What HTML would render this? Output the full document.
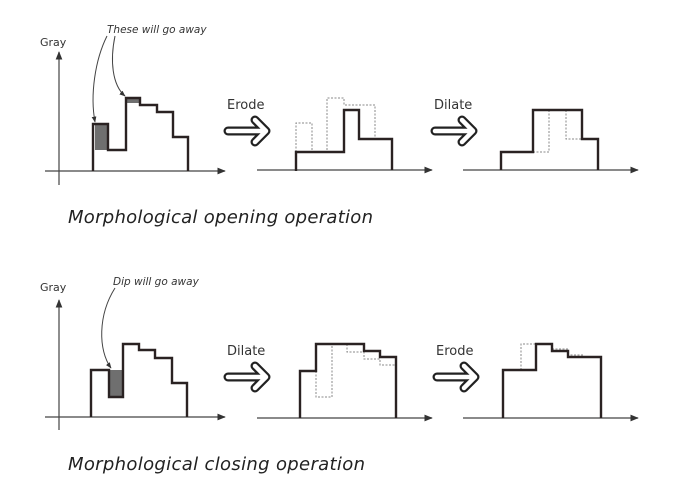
<!DOCTYPE html>
<html><head><meta charset="utf-8"><style>
html,body{margin:0;padding:0;background:#fff;width:680px;height:495px;overflow:hidden}
svg{display:block}
text{font-family:"DejaVu Sans","Liberation Sans",sans-serif}
</style></head><body>
<svg id="fig" width="680" height="495" viewBox="0 0 680 495" xmlns="http://www.w3.org/2000/svg">
<rect x="0" y="0" width="680" height="495" fill="#fff"/>
<defs>
<marker id="ah" viewBox="0 0 10 10" refX="9" refY="5" markerWidth="7" markerHeight="7" orient="auto"><path d="M0,1 L10,5 L0,9 z" fill="#333"/></marker>
<marker id="ah2" viewBox="0 0 10 10" refX="9" refY="5" markerWidth="6" markerHeight="6" orient="auto"><path d="M0,1 L10,5 L0,9 z" fill="#333"/></marker>
</defs>
<g id="shapes"></g>
<text x="40" y="46" font-size="11" fill="#333">Gray</text>
<text x="40" y="291" font-size="11" fill="#333">Gray</text>
<text x="107" y="33" font-size="10.5" font-style="italic" fill="#333">These will go away</text>
<text x="113" y="285" font-size="10.5" font-style="italic" fill="#333">Dip will go away</text>
<text x="227" y="109" font-size="13" font-weight="500" fill="#333">Erode</text>
<text x="434" y="109" font-size="13" font-weight="500" fill="#333">Dilate</text>
<text x="227" y="355" font-size="13" font-weight="500" fill="#333">Dilate</text>
<text x="436" y="355" font-size="13" font-weight="500" fill="#333">Erode</text>
<text x="68" y="223" font-size="18" font-style="italic" fill="#222" textLength="305">Morphological opening operation</text>
<text x="68" y="470" font-size="18" font-style="italic" fill="#222" textLength="297">Morphological closing operation</text>
<path d="M107,36 C95,60 90,95 95,122" fill="none" stroke="#444" stroke-width="1" marker-end="url(#ah2)"/>
<path d="M115,36 C110,60 112,85 125,96" fill="none" stroke="#444" stroke-width="1" marker-end="url(#ah2)"/>
<path d="M115,288 C98,315 98,350 111,368" fill="none" stroke="#444" stroke-width="1" marker-end="url(#ah2)"/>
</svg>
<script>
const openOrig = [[93,171],[93,124],[108,124],[108,150],[126,150],[126,98],[140,98],[140,105],[157,105],[157,112],[173,112],[173,137],[188,137],[188,171]];
const openEroded = [[296,171],[296,152],[344,152],[344,110],[359,110],[359,139],[392,139],[392,170]];
const openErodedRef = [[296,152],[296,123],[312,123],[312,152],[327,152],[327,98],[344,98],[344,105],[375,105],[375,139]];
const openDilated = [[501,170],[501,152],[533,152],[533,110],[582,110],[582,139],[598,139],[598,170]];
const openDilatedRef1 = [[549,110],[549,152],[533,152]];
const openDilatedRef2 = [[566,110],[566,139],[582,139]];
const closeOrig = [[91,417],[91,370],[109,370],[109,397],[123,397],[123,344],[139,344],[139,350],[155,350],[155,358],[172,358],[172,383],[187,383],[187,417]];
const closeDilated = [[300,418],[300,371],[316,371],[316,344],[364,344],[364,351],[380,351],[380,357],[396,357],[396,418]];
const closeDilatedRef1 = [[316,371],[316,397],[332,397],[332,344]];
const closeDilatedRef2 = [[347,344],[347,352],[364,352],[364,359],[380,359],[380,365],[396,365]];
const closeEroded = [[503,418],[503,370],[536,370],[536,344],[552,344],[552,351],[568,351],[568,357],[601,357],[601,418]];
const closeErodedRef = [[521,370],[521,344],[536,344]];
const closeErodedRef2 = [[552,349],[568,349],[568,355],[583,355],[583,357]];
const shades = [[95,124,13,26],[126,98,14,5],[110,370,13,27]];
const axes = [[59,185,59,52,45,171,225,171],[59,430,59,300,45,417,225,417]];
const xAxes = [[257,170,432],[463,170,638],[257,418,432],[463,418,638]];
const arrows = [[228,131],[435,131],[228,377],[437,377]];

const NS = 'http://www.w3.org/2000/svg';
const g = document.getElementById('shapes');
function mk(tag, attrs){const e=document.createElementNS(NS,tag);for(const k in attrs)e.setAttribute(k,attrs[k]);g.appendChild(e);return e;}
function pts(a){return a.map(p=>p.join(',')).join(' ');}

shades.forEach(s=>{
  const r=mk('rect',{x:s[0],y:s[1],width:s[2],height:s[3],fill:'#6f6f6f'});
  
  
});
axes.forEach(a=>{
  const l1=mk('line',{x1:a[0],y1:a[1],x2:a[2],y2:a[3],stroke:'#444','stroke-width':1.2,'marker-end':'url(#ah)'});
  
  
  const l2=mk('line',{x1:a[4],y1:a[5],x2:a[6],y2:a[7],stroke:'#444','stroke-width':1.2,'marker-end':'url(#ah)'});
  
  
});
xAxes.forEach(a=>{
  const l=mk('line',{x1:a[0],y1:a[1],x2:a[2],y2:a[1],stroke:'#444','stroke-width':1.2,'marker-end':'url(#ah)'});
  
  
});
[openErodedRef,openDilatedRef1,openDilatedRef2,closeDilatedRef1,closeDilatedRef2,closeErodedRef,closeErodedRef2].forEach(p=>{
  const e=mk('polyline',{points:pts(p),fill:'none',stroke:'#888','stroke-width':1,'stroke-dasharray':'2,1.5'});
  
  
});
[openOrig,openEroded,openDilated,closeOrig,closeDilated,closeEroded].forEach(p=>{
  const e=mk('polyline',{points:pts(p),fill:'none',stroke:'#2a2222','stroke-width':2.4,'stroke-linejoin':'miter'});
  
  
});
arrows.forEach(a=>{
  const x=a[0],y=a[1];
  const d=`M${x},${y} L${x+36},${y} M${x+27},${y-11} L${x+38},${y} L${x+27},${y+11}`;
  const o=mk('path',{d:d,fill:'none',stroke:'#222','stroke-width':9,'stroke-linecap':'round','stroke-linejoin':'round'});
  
  
  const i=mk('path',{d:d,fill:'none',stroke:'#fff','stroke-width':4.5,'stroke-linecap':'round','stroke-linejoin':'round'});
  
  
});
</script>
</body></html>
